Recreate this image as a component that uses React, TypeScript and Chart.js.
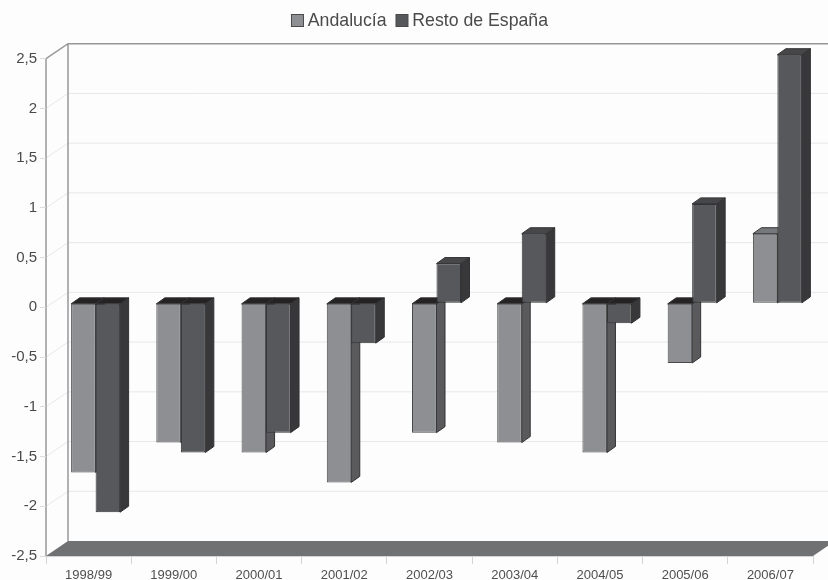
import React, { useEffect, useRef } from "react";
import { Chart, registerables } from "chart.js";

Chart.register(...registerables);

const categories = ["1998/99", "1999/00", "2000/01", "2001/02", "2002/03", "2003/04", "2004/05", "2005/06", "2006/07"];
const andalucia = [-1.7, -1.4, -1.5, -1.8, -1.3, -1.4, -1.5, -0.6, 0.7];
const restoEspana = [-2.1, -1.5, -1.3, -0.4, 0.4, 0.7, -0.2, 1, 2.5];
const seriesNames = ["Andalucía", "Resto de España"];

const WALL_DX = 22;
const WALL_DY = 15;
const BAR_DX = 7;
const BAR_DY = 4;
const DEPTH_X = 8.5;
const DEPTH_Y = 6;
const SANS = '"Liberation Sans", Arial, sans-serif';

const faceColors = [
  { front: "#8e8f92", side: "#5a5a5d", top: "#77787b" },
  { front: "#57585b", side: "#38383b", top: "#47474a" },
];

const scene3d = {
  id: "scene3d",
  beforeLayout(chart: any) {
    const legend = chart.legend;
    if (legend && !legend.__tall) {
      legend.__tall = true;
      const fit = legend.fit;
      legend.fit = function () {
        fit.call(this);
        this.height += 19;
      };
    }
  },
  afterLayout(chart: any) {
    if (chart.legend) {
      chart.legend.left += 13;
      chart.legend.right += 13;
    }
  },
  beforeDraw(chart: any) {
    const { ctx, chartArea: a, scales } = chart;
    ctx.save();
    ctx.fillStyle = "#fdfdfd";
    ctx.fillRect(0, 0, chart.width, chart.height);
    const yScale = scales.y;
    ctx.lineWidth = 1;
    ctx.strokeStyle = "#e8e8e8";
    yScale.ticks.forEach((_: any, i: number) => {
      if (i === 0 || i === yScale.ticks.length - 1) return;
      const y = yScale.getPixelForTick(i);
      ctx.beginPath();
      ctx.moveTo(a.left, y);
      ctx.lineTo(a.left + WALL_DX, y - WALL_DY);
      ctx.lineTo(chart.width, y - WALL_DY);
      ctx.stroke();
    });
    ctx.fillStyle = "#707173";
    ctx.beginPath();
    ctx.moveTo(a.left, a.bottom);
    ctx.lineTo(a.left + WALL_DX, a.bottom - WALL_DY);
    ctx.lineTo(a.right + WALL_DX, a.bottom - WALL_DY);
    ctx.lineTo(a.right, a.bottom);
    ctx.closePath();
    ctx.fill();
    ctx.strokeStyle = "#98989a";
    ctx.lineWidth = 1.5;
    ctx.beginPath();
    ctx.moveTo(a.left, a.bottom);
    ctx.lineTo(a.left, a.top);
    ctx.lineTo(a.left + WALL_DX, a.top - WALL_DY);
    ctx.lineTo(chart.width, a.top - WALL_DY);
    ctx.moveTo(a.left + WALL_DX, a.top - WALL_DY);
    ctx.lineTo(a.left + WALL_DX, a.bottom - WALL_DY);
    ctx.stroke();
    ctx.restore();
  },
  // Draw the series left-to-right so the darker bars sit over the side faces of the lighter ones.
  beforeDatasetsDraw(chart: any) {
    const { ctx } = chart;
    [0, 1].forEach((index) => {
      const meta = chart.getDatasetMeta(index);
      const colors = faceColors[index];
      ctx.save();
      ctx.translate(BAR_DX, -BAR_DY);
      meta.data.forEach((bar: any) => {
        const p = bar.getProps(["x", "y", "base", "width"], true);
        const left = p.x - p.width / 2;
        const right = p.x + p.width / 2;
        const top = Math.min(p.y, p.base);
        const bottom = Math.max(p.y, p.base);
        const negative = p.y > p.base;
        ctx.strokeStyle = "#333335";
        ctx.lineWidth = 1;
        ctx.fillStyle = colors.side;
        ctx.beginPath();
        ctx.moveTo(right, top);
        ctx.lineTo(right + DEPTH_X, top - DEPTH_Y);
        ctx.lineTo(right + DEPTH_X, bottom - DEPTH_Y);
        ctx.lineTo(right, bottom);
        ctx.closePath();
        ctx.fill();
        ctx.stroke();
        ctx.fillStyle = negative ? "#252324" : colors.top;
        ctx.beginPath();
        ctx.moveTo(left, top);
        ctx.lineTo(left + DEPTH_X, top - DEPTH_Y);
        ctx.lineTo(right + DEPTH_X, top - DEPTH_Y);
        ctx.lineTo(right, top);
        ctx.closePath();
        ctx.fill();
        ctx.stroke();
      });
      meta.controller.draw();
      ctx.restore();
    });
    return false;
  },
  afterDraw(chart: any) {
    const { ctx, legend } = chart;
    if (!legend || !legend.legendHitBoxes) return;
    ctx.save();
    legend.legendHitBoxes.forEach((box: any, i: number) => {
      ctx.fillStyle = faceColors[i].front;
      ctx.strokeStyle = "#4a4a4c";
      ctx.lineWidth = 1;
      ctx.fillRect(box.left + 0.5, box.top + 2.5, 12, 12);
      ctx.strokeRect(box.left + 0.5, box.top + 2.5, 12, 12);
    });
    ctx.restore();
  },
};

export default function App() {
  const ref = useRef<HTMLCanvasElement | null>(null);
  useEffect(() => {
    const chart = new Chart(ref.current as HTMLCanvasElement, {
      type: "bar",
      data: {
        labels: categories,
        datasets: [
          { label: seriesNames[0], data: andalucia, backgroundColor: faceColors[0].front, borderColor: "#4a4a4c", borderWidth: 1, borderSkipped: false },
          { label: seriesNames[1], data: restoEspana, backgroundColor: faceColors[1].front, borderColor: "#333335", borderWidth: 1, borderSkipped: false },
        ],
      },
      options: {
        responsive: false,
        animation: false,
        layout: { padding: { top: 3, right: 15, left: 0, bottom: 0 } },
        datasets: { bar: { categoryPercentage: 0.575, barPercentage: 1 } },
        plugins: {
          tooltip: { enabled: false },
          legend: {
            position: "top",
            labels: {
              boxWidth: 8,
              boxHeight: 12,
              padding: 9,
              color: "#4a4a4c",
              font: { family: SANS, size: 17.7 },
              generateLabels: (chart: any) =>
                chart.data.datasets.map((d: any, i: number) => ({
                  text: d.label,
                  fillStyle: "rgba(0,0,0,0)",
                  strokeStyle: "rgba(0,0,0,0)",
                  lineWidth: 0,
                  datasetIndex: i,
                  fontColor: "#4a4a4c",
                })),
            },
          },
        },
        scales: {
          x: {
            grid: { drawOnChartArea: false, drawTicks: true, tickLength: 8, color: "#d4d4d4" },
            border: { display: true, color: "#d4d4d4" },
            ticks: { color: "#4f4f51", font: { family: SANS, size: 13 }, padding: 4, maxRotation: 0, autoSkip: false },
            afterFit: (s: any) => { s.height = 24; },
          },
          y: {
            min: -2.5,
            max: 2.5,
            grid: { drawOnChartArea: false, drawTicks: true, tickLength: 6, color: "#dcdcdc" },
            border: { display: false },
            ticks: {
              stepSize: 0.5,
              color: "#4a4a4c",
              font: { family: SANS, size: 15 },
              padding: 3,
              callback: (v: any) => String(v).replace(".", ","),
            },
            afterFit: (s: any) => { s.width = 46; },
          },
        },
      },
      plugins: [scene3d],
    } as any);
    return () => chart.destroy();
  }, []);
  return (
    <div style={{ position: "fixed", left: 0, top: 0, width: 828, height: 580 }}>
      <canvas ref={ref} width={828} height={580} style={{ display: "block" }} />
    </div>
  );
}
